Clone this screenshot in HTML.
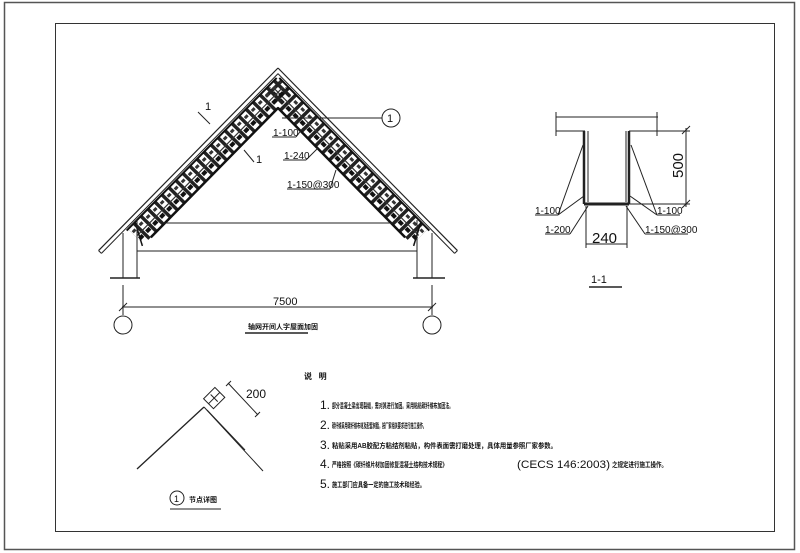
<!DOCTYPE html>
<html><head><meta charset="utf-8"><style>
html,body{margin:0;padding:0;background:#fff;}
svg{display:block;}
text{font-family:"Liberation Sans","Noto Sans CJK SC",sans-serif;fill:#111;}
.c{font-family:"Liberation Sans","Noto Sans CJK SC",sans-serif;font-weight:bold;}
</style></head><body>
<svg width="800" height="553" viewBox="0 0 800 553" xmlns="http://www.w3.org/2000/svg">
<defs>
<pattern id="rung" width="10" height="30" patternUnits="userSpaceOnUse">
<rect x="0" y="0" width="3.5" height="30" fill="#222"/>
<rect x="4" y="0" width="5" height="3" fill="#111"/>
<rect x="5" y="10" width="4" height="3" fill="#333"/>
<rect x="4" y="19" width="5" height="4" fill="#111"/>
</pattern>
<g id="half">
<line x1="0" y1="0" x2="256" y2="0" stroke="#222" stroke-width="1.2"/>
<line x1="4" y1="4" x2="256" y2="4" stroke="#222" stroke-width="1"/>
<line x1="256" y1="0" x2="256" y2="4" stroke="#222"/>
<rect x="8" y="6" width="212" height="22" fill="url(#rung)"/>
<line x1="8" y1="6" x2="222" y2="6" stroke="#111" stroke-width="2"/>
<line x1="28" y1="28" x2="210" y2="28" stroke="#111" stroke-width="2.5"/>
<line x1="10" y1="17" x2="218" y2="17" stroke="#333" stroke-width="1.2"/>
<line x1="210" y1="6" x2="222" y2="28" stroke="#111" stroke-width="1.5"/>
</g>
</defs>
<rect x="0" y="0" width="800" height="553" fill="#fff"/>
<rect x="4.5" y="2.5" width="790" height="547" fill="none" stroke="#555" stroke-width="1.5"/>
<rect x="55.5" y="23.5" width="719" height="508" fill="none" stroke="#333" stroke-width="1"/>

<g transform="translate(278,68) rotate(45.5)"><use href="#half"/></g>
<g transform="translate(556,0) scale(-1,1) translate(278,68) rotate(45.5)"><use href="#half"/></g>
<g stroke="#222" stroke-width="1" fill="none">
<line x1="123" y1="233" x2="123" y2="278"/><line x1="137" y1="220" x2="137" y2="278"/>
<line x1="417" y1="220" x2="417" y2="278"/><line x1="432" y1="233" x2="432" y2="278"/>
<line x1="110" y1="278" x2="140" y2="278" stroke-width="1.5"/>
<line x1="413" y1="278" x2="445" y2="278" stroke-width="1.5"/>
<line x1="163" y1="223" x2="393" y2="223"/>
<line x1="137" y1="251" x2="417" y2="251"/>
<line x1="123" y1="285" x2="123" y2="315"/><line x1="432" y1="285" x2="432" y2="315"/>
<line x1="122" y1="307" x2="433" y2="307"/>
<line x1="119" y1="311" x2="127" y2="303"/><line x1="428" y1="311" x2="436" y2="303"/>
<circle cx="123" cy="325" r="9"/><circle cx="432" cy="325" r="9"/>
<line x1="245" y1="333" x2="308" y2="333" stroke-width="1.5"/>
<line x1="198" y1="112" x2="210" y2="124"/>
<line x1="244" y1="150" x2="254" y2="162"/>
<line x1="282" y1="118" x2="382" y2="118"/>
<circle cx="391" cy="118" r="9"/>
<line x1="272" y1="137" x2="296" y2="137"/><line x1="296" y1="137" x2="303" y2="128"/>
<line x1="283" y1="160" x2="306" y2="160"/><line x1="306" y1="160" x2="318" y2="148"/>
<line x1="287" y1="189" x2="330" y2="189"/><line x1="330" y1="189" x2="336" y2="170"/>
</g>
<text x="205" y="110" font-size="11">1</text>
<text x="256" y="163" font-size="11">1</text>
<text x="387" y="122" font-size="11">1</text>
<text x="273" y="136" font-size="10">1-100</text>
<text x="284" y="159" font-size="10">1-240</text>
<text x="287" y="188" font-size="10">1-150@300</text>
<text x="273" y="305" font-size="11">7500</text>
<text x="248" y="329" font-size="7" class="c">轴网开间人字屋面加固</text>

<g stroke="#222" stroke-width="1" fill="none">
<line x1="556" y1="117" x2="658" y2="117"/>
<line x1="556" y1="131" x2="585" y2="131"/><line x1="629" y1="131" x2="690" y2="131"/>
<line x1="556" y1="112" x2="556" y2="136"/><line x1="657" y1="112" x2="657" y2="136"/>
<line x1="584" y1="131" x2="584" y2="204" stroke-width="2.5"/>
<line x1="629" y1="131" x2="629" y2="204" stroke-width="2.5"/>
<line x1="588" y1="131" x2="588" y2="202"/><line x1="626" y1="131" x2="626" y2="202"/>
<line x1="584" y1="204" x2="629" y2="204" stroke-width="3"/>
<line x1="629" y1="204" x2="690" y2="204"/>
<line x1="686" y1="128" x2="686" y2="207"/>
<line x1="682" y1="134" x2="690" y2="126"/><line x1="682" y1="208" x2="690" y2="200"/>
<line x1="586" y1="206" x2="586" y2="248"/><line x1="627" y1="206" x2="627" y2="248"/>
<line x1="586" y1="244" x2="627" y2="244"/>
<line x1="535" y1="215" x2="558" y2="215"/><line x1="558" y1="215" x2="583" y2="145"/><line x1="558" y1="215" x2="584" y2="196"/>
<line x1="545" y1="234" x2="570" y2="234"/><line x1="570" y1="234" x2="588" y2="206"/>
<line x1="657" y1="215" x2="680" y2="215"/><line x1="657" y1="215" x2="631" y2="145"/><line x1="657" y1="215" x2="630" y2="196"/>
<line x1="645" y1="234" x2="688" y2="234"/><line x1="645" y1="234" x2="626" y2="206"/>
<line x1="589" y1="287" x2="622" y2="287" stroke-width="1.5"/>
</g>
<text x="535" y="214" font-size="10">1-100</text>
<text x="545" y="233" font-size="10">1-200</text>
<text x="657" y="214" font-size="10">1-100</text>
<text x="645" y="233" font-size="10">1-150@300</text>
<text x="592" y="243" font-size="15">240</text>
<text transform="translate(683,178) rotate(-90)" font-size="15">500</text>
<text x="591" y="283" font-size="11">1-1</text>

<g stroke="#222" stroke-width="1" fill="none">
<line x1="204" y1="407" x2="137" y2="469" stroke-width="1.3"/>
<line x1="204" y1="407" x2="263" y2="471"/>
<line x1="207" y1="410" x2="245" y2="450"/>
<g transform="translate(205,403) rotate(45)"><rect x="-4" y="-18" width="14" height="16"/><line x1="-2" y1="-10" x2="8" y2="-10"/><line x1="3" y1="-18" x2="3" y2="-2"/></g>
<line x1="228" y1="383" x2="258" y2="415"/>
<line x1="226" y1="386" x2="231" y2="381"/><line x1="255" y1="417" x2="260" y2="412"/>
<circle cx="177" cy="498" r="7"/>
<line x1="170" y1="509" x2="221" y2="509"/>
</g>
<text x="246" y="398" font-size="12">200</text>
<text x="174" y="502" font-size="9">1</text>
<text x="189" y="502" font-size="7" class="c">节点详图</text>

<text x="304" y="379" font-size="8" class="c">说&#160;&#160;&#160;明</text>
<g font-size="12">
<text x="320" y="409">1.</text>
<text x="320" y="429">2.</text>
<text x="320" y="449">3.</text>
<text x="320" y="468">4.</text>
<text x="320" y="488">5.</text>
</g>
<g font-size="7" class="c" lengthAdjust="spacingAndGlyphs">
<text x="332" y="408" textLength="121" lengthAdjust="spacingAndGlyphs">部分混凝土梁出现裂缝，需对其进行加固。采用粘贴碳纤维布加固法。</text>
<text x="332" y="428" textLength="94" lengthAdjust="spacingAndGlyphs">碳纤维采用碳纤维布材及配套树脂，按厂家相关要求进行施工操作。</text>
<text x="332" y="448" textLength="225" lengthAdjust="spacingAndGlyphs">粘贴采用AB胶配方粘结剂粘贴，构件表面需打磨处理，具体用量参照厂家参数。</text>
<text x="332" y="467" textLength="115" lengthAdjust="spacingAndGlyphs">严格按照《碳纤维片材加固修复混凝土结构技术规程》</text>
<text x="332" y="487" textLength="93" lengthAdjust="spacingAndGlyphs">施工部门应具备一定的施工技术和经验。</text>
<text x="612" y="467" textLength="55" lengthAdjust="spacingAndGlyphs">之规定进行施工操作。</text>
</g>
<text x="517" y="468" font-size="11" textLength="93" lengthAdjust="spacingAndGlyphs">(CECS 146:2003)</text>
</svg>
</body></html>
